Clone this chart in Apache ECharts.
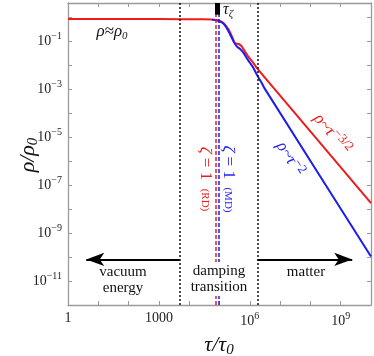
<!DOCTYPE html>
<html>
<head>
<meta charset="utf-8">
<script src="https://cdn.jsdelivr.net/npm/echarts@6/dist/echarts.min.js"></script>
<style>
html, body { margin: 0; padding: 0; background: #fff; }
#chart { width: 374px; height: 356px; }
</style>
</head>
<body>
<div id="chart"></div>
<script>
// values: tau/tau0 and rho/rho0
const tauRD = [1, 1e3, 3e4, 5.6e4, 9.3e4, 1.35e5, 2.0e5, 2.7e5, 3.2e5, 4.3e5, 5.4e5, 6.9e5, 8.9e5, 1.3e6, 1.9e6, 3.2e6, 1e10];
const rhoRD = [0.85, 0.85, 0.84, 0.81, 0.75, 0.59, 0.31, 0.14, 0.085, 0.078, 0.062, 0.038, 0.023, 0.0126, 0.0066, 0.0030, 1.8e-8];
const tauMD = [5.6e4, 9.3e4, 1.35e5, 2.0e5, 2.9e5, 3.7e5, 4.8e5, 6.2e5, 7.9e5, 1.02e6, 1.32e6, 1.7e6, 2.45e6, 3.0e6, 1e10];
const rhoMD = [0.81, 0.72, 0.55, 0.26, 0.10, 0.062, 0.048, 0.033, 0.020, 0.0126, 0.0078, 0.0041, 0.0019, 0.00115, 1.05e-10];

const zetaOneTau = [7.6e4, 9.7e4];   // zeta = 1 for RD, MD
const regionTau = [4.9e3, 1.8e6];    // vacuum | damping | matter
const tauZeta = 8.6e4;
const tauZetaRho = [4, 1.3];
const arrowRho = 8e-11;
const arrowEndTau = [4, 2.4e9];

const xLabelExps = [0, 3, 6, 9];
const yLabelExps = [-11, -9, -7, -5, -3, -1];

const SERIF = 'Liberation Serif';
const RED = '#ee1c1c';
const BLUE = '#1c1cee';
const INK = '#111';
const AXIS = '#9a9a9a';

function exponent(v) {
  const l = Math.log10(v);
  const e = Math.round(l);
  return Math.abs(l - e) < 1e-6 ? e : null;
}
function pow10(e) {
  return '{b|10}{s|' + String(e).replace('-', '\u2212') + '}';
}
const tickRich = {
  b: { fontFamily: SERIF, fontSize: 14, color: '#222' },
  s: { fontFamily: SERIF, fontSize: 10, color: '#222', padding: [0, 0, 10, 0] }
};

// rich text for graphic elements (zrender style -> fill)
function mathRich(color, size, small, shift) {
  return {
    i: { fontFamily: SERIF, fontSize: size, fontStyle: 'italic', fill: color },
    n: { fontFamily: SERIF, fontSize: size, fill: color },
    sub: { fontFamily: SERIF, fontSize: small, fontStyle: 'italic', fill: color, padding: [shift, 0, 0, 0] },
    sup: { fontFamily: SERIF, fontSize: small, fill: color, padding: [0, 0, shift, 0] },
    sc: { fontFamily: SERIF, fontSize: small, fill: color }
  };
}

const chart = echarts.init(document.getElementById('chart'));

const baseX = {
  type: 'log', logBase: 10, min: 1, max: 1e10, interval: 1,
  axisLine: { lineStyle: { color: AXIS, width: 1.3 } },
  axisTick: { inside: true, length: 4, lineStyle: { color: AXIS } },
  splitLine: { show: false }
};
const baseY = {
  type: 'log', logBase: 10, min: 1e-12, max: 4, interval: 1,
  axisLine: { lineStyle: { color: AXIS, width: 1.3 } },
  axisTick: { inside: true, length: 4, lineStyle: { color: AXIS } },
  splitLine: { show: false }
};

chart.setOption({
  animation: false,
  textStyle: { fontFamily: SERIF },
  grid: { left: 68, right: 2, top: 3, bottom: 51 },
  xAxis: [
    Object.assign({}, baseX, {
      position: 'bottom',
      axisLabel: {
        interval: 0, margin: 6, rich: tickRich,
        formatter: v => {
          const e = exponent(v);
          if (e === null || xLabelExps.indexOf(e) < 0) return '';
          if (e === 0) return '{b|1}';
          if (e === 3) return '{b|1000}';
          return pow10(e);
        }
      }
    }),
    Object.assign({}, baseX, { position: 'top', axisLabel: { show: false } })
  ],
  yAxis: [
    Object.assign({}, baseY, {
      position: 'left',
      axisLabel: {
        interval: 0, margin: 6, rich: tickRich,
        formatter: v => {
          const e = exponent(v);
          if (e === null || yLabelExps.indexOf(e) < 0) return '';
          return pow10(e);
        }
      }
    }),
    Object.assign({}, baseY, { position: 'right', axisLabel: { show: false } })
  ],
  series: [
    {
      name: 'RD', type: 'line', showSymbol: false, smooth: 0.2, z: 3,
      data: tauRD.map((t, i) => [t, rhoRD[i]]),
      lineStyle: { color: RED, width: 2 },
      markLine: {
        silent: true, symbol: 'none', label: { show: false },
        data: [{ xAxis: zetaOneTau[0] }],
        lineStyle: { color: RED, width: 1.5, type: [4, 2] }
      }
    },
    {
      name: 'MD', type: 'line', showSymbol: false, smooth: 0.2, z: 3,
      data: tauMD.map((t, i) => [t, rhoMD[i]]),
      lineStyle: { color: BLUE, width: 2 },
      markLine: {
        silent: true, symbol: 'none', label: { show: false },
        data: [{ xAxis: zetaOneTau[1] }],
        lineStyle: { color: BLUE, width: 1.5, type: [4, 2] }
      }
    },
    {
      name: 'marks', type: 'line', data: [], z: 4,
      markLine: {
        silent: true, symbol: 'none', label: { show: false },
        lineStyle: { color: INK, width: 1.5, type: [2, 2] },
        data: [
          { xAxis: regionTau[0] },
          { xAxis: regionTau[1] },
          [
            { coord: [tauZeta, tauZetaRho[0]], lineStyle: { type: 'solid', width: 5, color: '#000' } },
            { coord: [tauZeta, tauZetaRho[1]] }
          ],
          [
            { coord: [regionTau[0], arrowRho], lineStyle: { type: 'solid', width: 2, color: '#000' } },
            { coord: [arrowEndTau[0], arrowRho], symbol: 'arrow', symbolSize: [10, 18] }
          ],
          [
            { coord: [regionTau[1], arrowRho], lineStyle: { type: 'solid', width: 2, color: '#000' } },
            { coord: [arrowEndTau[1], arrowRho], symbol: 'arrow', symbolSize: [10, 18] }
          ]
        ]
      }
    }
  ],
  graphic: [
    {
      type: 'text', x: 112, y: 32, z: 100,
      style: { text: '{i|\u03c1\u2248\u03c1}{sub|0}', align: 'center', verticalAlign: 'middle', rich: mathRich(INK, 17, 11, 8) }
    },
    {
      type: 'text', x: 228, y: 10, z: 100,
      style: { text: '{i|\u03c4}{sub|\u03b6}', align: 'center', verticalAlign: 'middle', rich: mathRich(INK, 16, 11, 8) }
    },
    {
      type: 'text', x: 28, y: 155, z: 100, rotation: Math.PI / 2,
      style: { text: '{i|\u03c1/\u03c1}{sub|0}', align: 'center', verticalAlign: 'middle', rich: mathRich(INK, 22, 15, 10) }
    },
    {
      type: 'text', x: 219, y: 345, z: 100,
      style: { text: '{i|\u03c4/\u03c4}{sub|0}', align: 'center', verticalAlign: 'middle', rich: mathRich(INK, 22, 15, 10) }
    },
    {
      type: 'text', x: 205, y: 179, z: 100, rotation: -Math.PI / 2,
      style: { text: '{i|\u03b6}{n| = 1  }{sc|(RD)}', align: 'center', verticalAlign: 'middle', rich: mathRich(RED, 17, 11, 0) }
    },
    {
      type: 'text', x: 228, y: 179, z: 100, rotation: -Math.PI / 2,
      style: { text: '{i|\u03b6}{n| = 1  }{sc|(MD)}', align: 'center', verticalAlign: 'middle', rich: mathRich(BLUE, 17, 11, 0) }
    },
    {
      type: 'text', x: 219, y: 279, z: 100,
      style: {
        text: 'damping\ntransition', align: 'center', verticalAlign: 'middle',
        font: '15px "Liberation Serif"', fill: INK, lineHeight: 16,
        backgroundColor: '#fff', padding: [1, 2]
      }
    },
    {
      type: 'text', x: 123, y: 280, z: 100,
      style: {
        text: 'vacuum\nenergy', align: 'center', verticalAlign: 'middle',
        font: '15px "Liberation Serif"', fill: INK, lineHeight: 16
      }
    },
    {
      type: 'text', x: 306, y: 272, z: 100,
      style: { text: 'matter', align: 'center', verticalAlign: 'middle', font: '15px "Liberation Serif"', fill: INK }
    },
    {
      type: 'text', x: 332, y: 134, z: 100, rotation: -0.87,
      style: { text: '{i|\u03c1~\u03c4}{sup|\u22123/2}', align: 'center', verticalAlign: 'middle', rich: mathRich(RED, 17, 13, 9) }
    },
    {
      type: 'text', x: 290, y: 159, z: 100, rotation: -1.01,
      style: { text: '{i|\u03c1~\u03c4}{sup|\u22122}', align: 'center', verticalAlign: 'middle', rich: mathRich(BLUE, 17, 13, 9) }
    }
  ]
});
</script>
</body>
</html>
